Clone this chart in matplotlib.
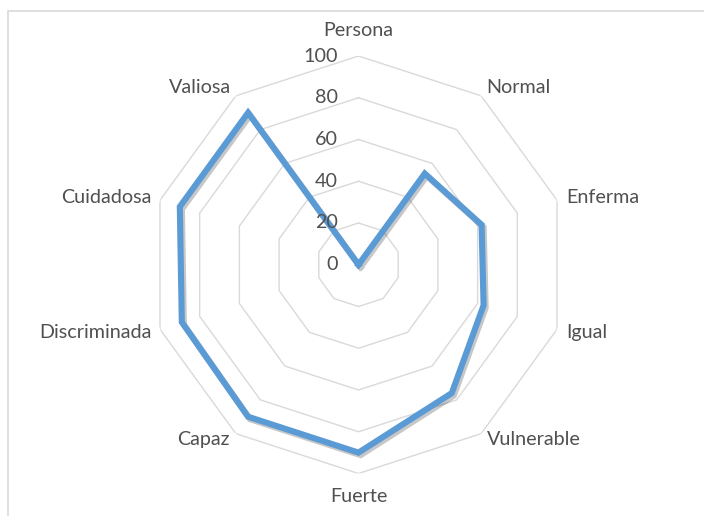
import numpy as np
import matplotlib
matplotlib.use("Agg")
import matplotlib.pyplot as plt
import matplotlib.patheffects as pe
from matplotlib.transforms import offset_copy
from matplotlib.patches import Rectangle

categories = ["Persona", "Normal", "Enferma", "Igual", "Vulnerable",
              "Fuerte", "Capaz", "Discriminada", "Cuidadosa", "Valiosa"]
values = [0, 54, 62, 63, 76, 90, 90, 89, 90, 90]
ticks = [0, 20, 40, 60, 80, 100]

plt.rcParams['font.family'] = ['Lato', 'DejaVu Sans']
TXT = '#505050'
GRID = '#D9D9D9'
LINE = '#5B9BD5'
FS = 14.2

W, H = 704, 516
fig = plt.figure(figsize=(W / 100, H / 100), dpi=100)
fig.patches.append(Rectangle((8 / W, -0.1), 1.1, 1 - 11 / H + 0.1, transform=fig.transFigure,
                             fill=False, edgecolor=GRID, lw=1.2))

cx, cy, R = 358.5, 264.75, 208.75
ax = fig.add_axes([(cx - R) / W, 1 - (cy + R) / H, 2 * R / W, 2 * R / H], projection='polar')
ax.set_theta_zero_location('N')
ax.set_theta_direction(-1)
ax.set_ylim(0, 100)
ax.set_axis_off()

n = len(categories)
ang = np.linspace(0, 2 * np.pi, n, endpoint=False)
angc = np.append(ang, ang[0])

for t in ticks[1:]:
    ax.plot(angc, [t] * (n + 1), color=GRID, lw=1.0, zorder=1)

vals = np.append(values, values[0])
ax.plot(angc, vals, color=LINE, lw=4.4, solid_joinstyle='miter', zorder=3,
        path_effects=[pe.SimpleLineShadow(offset=(1.5, -1.8), shadow_color='#000000', alpha=0.22),
                      pe.Normal()])

for t in ticks:
    tr = offset_copy(ax.transData, fig=fig, x=-21, y=0, units='dots')
    ax.text(0, t, str(t), transform=tr, ha='right', va='center', fontsize=FS, color=TXT)

offs = [(0, 26, 'center'), (5, 8, 'left'), (9, 3, 'left'), (9, -3, 'left'), (6, -6, 'left'),
        (0, -23, 'center'), (-6, -6, 'right'), (-8, -3, 'right'), (-8, 3, 'right'), (-5, 8, 'right')]
for a, lab, (dx, dy, ha) in zip(ang, categories, offs):
    tr = offset_copy(ax.transData, fig=fig, x=dx, y=dy, units='dots')
    ax.text(a, 100, lab, transform=tr, ha=ha, va='center', fontsize=FS, color=TXT)

fig.savefig("out.png", dpi=100)
